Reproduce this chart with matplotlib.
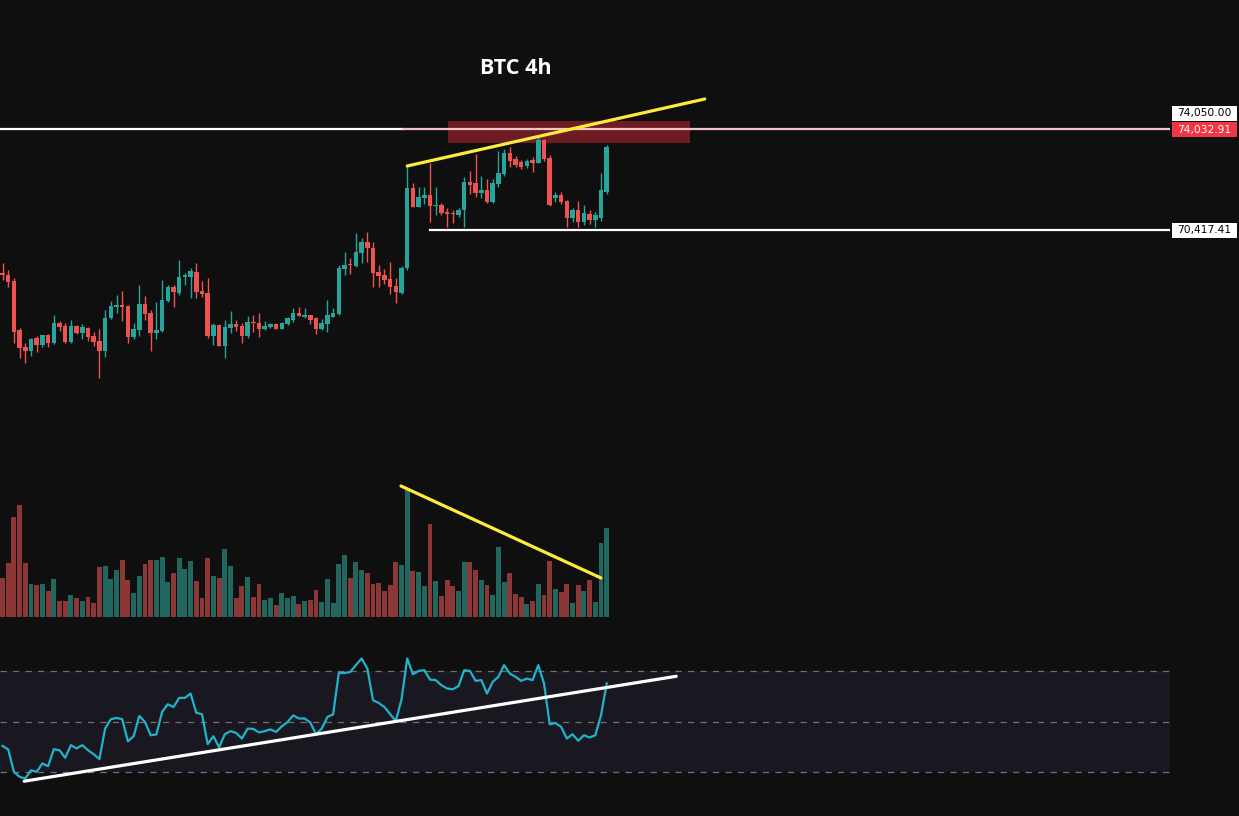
import matplotlib
matplotlib.use("Agg")
import matplotlib.pyplot as plt
from matplotlib.patches import Rectangle
import numpy as np

# ---------------- data ----------------
opens = [68866, 68794, 68578, 66814, 66202, 66058, 66526, 66274, 66634, 66346,
         67066, 66958, 66382, 66958, 66706, 66886, 66598, 66418, 66058, 67246,
         67642, 67714, 67678, 66562, 66814, 67750, 67426, 66706, 66778, 67858,
         68362, 68146, 68722, 68722, 68902, 68218, 68146, 66598, 66994, 66238,
         66886, 67030, 66958, 66598, 67102, 67066, 66850, 66922, 67030, 66850,
         67030, 67174, 67426, 67282, 67354, 67246, 66850, 67030, 67282, 67390,
         69010, 69190, 69118, 69586, 69982, 69766, 68902, 68794, 68650, 68398,
         68146, 69046, 71926, 71242, 71566, 71674, 71278, 71314, 71062, 71026,
         70954, 71134, 72142, 72106, 71746, 71854, 71422, 72070, 72430, 73186,
         72970, 72862, 72718, 72934, 72826, 73654, 73006, 71566, 71674, 71458,
         70846, 71134, 70702, 70990, 70774, 70846, 71782]
highs = [69226, 68974, 68686, 66886, 66346, 66526, 66598, 66634, 66670, 67354,
         67138, 67066, 67174, 66994, 67030, 66922, 66742, 66850, 67534, 67858,
         68074, 68218, 67714, 67066, 68434, 68038, 67534, 67822, 68614, 68434,
         68434, 69334, 68866, 69046, 69226, 68578, 68686, 67066, 66994, 67174,
         67498, 67174, 67066, 67318, 67354, 67426, 67138, 67066, 67066, 67102,
         67282, 67606, 67642, 67606, 67354, 67282, 67210, 67894, 67606, 69154,
         69622, 69406, 70306, 70126, 70342, 69982, 69154, 69010, 69262, 68686,
         69118, 72718, 72106, 71962, 71962, 72826, 71962, 71386, 71206, 71134,
         71206, 72322, 72538, 73150, 72358, 72250, 72250, 73258, 73330, 73402,
         73078, 72934, 72970, 73042, 73798, 73690, 73114, 71782, 71782, 71494,
         71206, 71458, 71314, 71134, 71062, 72466, 73474]
lows = [68614, 68362, 66346, 65806, 65626, 65878, 66022, 66202, 66202, 66310,
        66778, 66346, 66346, 66670, 66490, 66418, 66238, 65086, 65842, 67210,
        67426, 67138, 66346, 66490, 66598, 67174, 66058, 66490, 66742, 67822,
        67642, 68074, 68434, 67966, 67966, 68002, 66526, 66274, 66238, 65806,
        66706, 66778, 66346, 66526, 66742, 66562, 66814, 66886, 66850, 66850,
        66994, 67102, 67318, 67246, 67030, 66670, 66814, 66742, 67282, 67354,
        68794, 68830, 69082, 69226, 69262, 68362, 68362, 68470, 68110, 67786,
        68110, 68974, 71242, 71242, 71350, 70702, 70954, 70954, 70522, 70666,
        70882, 70522, 71710, 71602, 71566, 71386, 71386, 71962, 72358, 72682,
        72682, 72610, 72646, 72502, 72826, 72898, 71278, 71422, 71350, 70522,
        70702, 70522, 70594, 70630, 70522, 70738, 71710]
closes = [68794, 68542, 66742, 66166, 66058, 66490, 66274, 66634, 66346, 67066,
          66922, 66382, 66958, 66706, 66922, 66562, 66382, 66058, 67246, 67678,
          67714, 67642, 66562, 66850, 67750, 67390, 66706, 66814, 67894, 68362,
          68182, 68722, 68794, 68938, 68182, 68110, 66598, 66994, 66238, 66922,
          67030, 66922, 66598, 67102, 67066, 66850, 66958, 67030, 66850, 67066,
          67246, 67426, 67318, 67354, 67174, 66850, 67066, 67354, 67426, 69046,
          69154, 69154, 69622, 69982, 69766, 68866, 68758, 68614, 68362, 68182,
          69046, 71926, 71242, 71602, 71674, 71278, 71314, 71026, 70990, 70990,
          71134, 72142, 72034, 71746, 71854, 71422, 72106, 72466, 73186, 72898,
          72754, 72682, 72898, 72826, 73654, 72970, 71314, 71674, 71422, 70846,
          71134, 70702, 71026, 70774, 70954, 71854, 73402]
volumes = [390, 540, 1000, 1120, 540, 330, 320, 330, 260, 380,
           160, 160, 220, 190, 160, 200, 140, 500, 510, 380,
           470, 570, 370, 240, 410, 530, 570, 570, 600, 350,
           440, 590, 480, 560, 360, 190, 590, 410, 390, 680,
           510, 190, 310, 400, 200, 330, 170, 190, 120, 240,
           190, 210, 130, 160, 170, 270, 150, 380, 140, 530,
           620, 390, 550, 470, 440, 330, 340, 260, 320, 550,
           520, 1270, 460, 450, 310, 930, 360, 210, 370, 310,
           260, 550, 550, 470, 370, 320, 220, 700, 350, 440,
           230, 200, 130, 160, 330, 220, 560, 280, 250, 330,
           140, 320, 260, 370, 150, 740, 890]
rsi = [40.4, 39.0, 30.2, 28.2, 27.6, 30.8, 30.2, 33.5, 32.4, 39.1,
       38.7, 35.7, 40.7, 39.4, 40.7, 38.7, 37.1, 35.2, 47.2, 50.9,
       51.4, 50.9, 42.2, 44.2, 52.2, 49.8, 44.6, 44.9, 53.8, 56.8,
       55.7, 59.3, 59.3, 61.0, 53.4, 52.9, 41.1, 44.2, 39.8, 45.0,
       46.2, 45.5, 43.3, 47.2, 47.1, 45.7, 46.2, 46.9, 45.9, 48.1,
       49.8, 52.4, 51.2, 51.2, 49.6, 45.0, 47.2, 51.8, 52.8, 69.1,
       69.1, 69.5, 72.2, 74.8, 70.9, 58.4, 57.3, 55.7, 52.9, 50.2,
       58.7, 74.8, 68.6, 69.9, 70.2, 66.5, 66.3, 64.3, 63.0, 62.7,
       63.9, 70.2, 69.9, 66.0, 66.3, 61.0, 65.6, 67.6, 72.2, 68.9,
       67.6, 66.0, 66.9, 66.3, 72.2, 65.0, 48.9, 49.4, 47.9, 43.3,
       45.0, 42.4, 44.6, 43.7, 44.6, 52.5, 65.0]

title = "BTC 4h"
level_top = 74050.00
level_last = 74032.91
level_support = 70417.41
zone_low, zone_high = 73546, 74338
zone_start, zone_end = 78.2, 120.6
price_trend = ([71.0, 123.2], [72718, 75130])
volume_trend = ([69.9, 105.0], [1310, 390])
rsi_trend = ([3.8, 118.2], [26.5, 67.8])
line_top_split = 70.3        # white part ends, pink part starts
support_start = 75.0

# ---------------- style ----------------
BG = "#0f0f0f"
UP, DOWN = "#26a69a", "#ef5350"
VUP, VDOWN = "#22675f", "#8a3735"
W, H = 1239, 816
PY0, PY1 = 78694, 55654      # price at top / bottom of price pane (640 px)

fig = plt.figure(figsize=(W / 100, H / 100), dpi=100, facecolor=BG)

def px_axes(x0, y0, x1, y1):
    a = fig.add_axes([x0 / W, 1 - y1 / H, (x1 - x0) / W, (y1 - y0) / H])
    a.set_facecolor("none")
    a.set_axis_off()
    return a

n = len(closes)
x = np.arange(n)
XL = (-0.4386, 204.82)

# volume pane (behind price)
axv = px_axes(0, 417, 1170, 617)
axv.set_xlim(*XL)
axv.set_ylim(0, 2000)
vcols = [VUP if c >= o else VDOWN for o, c in zip(opens, closes)]
axv.bar(x, volumes, width=0.86, color=vcols, linewidth=0)
axv.plot(*volume_trend, color="#ffeb3b", lw=2.3, solid_capstyle="round")

# price pane
ax = px_axes(0, 0, 1170, 640)
ax.set_xlim(*XL)
ax.set_ylim(PY1, PY0)

ax.add_patch(Rectangle((zone_start, zone_low), zone_end - zone_start,
                       zone_high - zone_low, facecolor="#6e1c24",
                       edgecolor="none", zorder=1))
ax.plot([XL[0], line_top_split], [level_top, level_top], color="white", lw=1.6, zorder=2)
ax.plot([line_top_split, XL[1]], [level_top, level_top], color="#f2c4c7", lw=1.6, zorder=2)
ax.plot([support_start, XL[1]], [level_support, level_support], color="white", lw=1.6, zorder=2)

o = np.array(opens); c = np.array(closes); hi = np.array(highs); lo = np.array(lows)
cols = [UP if cc >= oo else DOWN for oo, cc in zip(o, c)]
ax.vlines(x, lo, hi, colors=cols, lw=1.0, zorder=3)
bottoms = np.minimum(o, c)
heights = np.maximum(np.abs(c - o), 36)
ax.bar(x, heights, bottom=bottoms, width=0.8, color=cols, linewidth=0, zorder=4)

ax.plot(*price_trend, color="#ffeb3b", lw=2.3, solid_capstyle="round", zorder=5)

# price labels column on the right (same price scale)
axl = px_axes(1170, 0, 1239, 640)
axl.set_xlim(0, 69)
axl.set_ylim(PY1, PY0)
ppx = (PY0 - PY1) / 640.0    # price per pixel

def price_label(val, fc, tc, dy_px):
    yc = val + dy_px * ppx
    axl.add_patch(Rectangle((2, yc - 7.5 * ppx), 65, 15 * ppx,
                            facecolor=fc, edgecolor="none"))
    axl.text(34.5, yc, f"{val:,.2f}", ha="center", va="center",
             fontsize=7.7, color=tc, family="DejaVu Sans")

price_label(level_top, "white", "black", 15.5)
price_label(level_last, "#f23645", "white", -0.5)
price_label(level_support, "white", "black", -0.5)

# RSI pane
axr = px_axes(0, 650, 1170, 800)
axr.set_xlim(*XL)
axr.set_ylim(19.1, 78.15)
axr.axhspan(30, 70, color="#19171f", lw=0, zorder=0)
for lv in (70, 50, 30):
    axr.axhline(lv, color="#6f7078", lw=0.9, ls=(0, (5, 5)), zorder=1)
axr.plot(x, rsi, color="#20b4cc", lw=1.6, zorder=3)
axr.plot(*rsi_trend, color="white", lw=2.3, solid_capstyle="round", zorder=4)

fig.text(516 / W, 1 - 68 / H, title, ha="center", va="center",
         fontsize=15.5, color="white", family="Open Sans", fontweight="bold")

fig.savefig("out.png", dpi=100, facecolor=BG)
